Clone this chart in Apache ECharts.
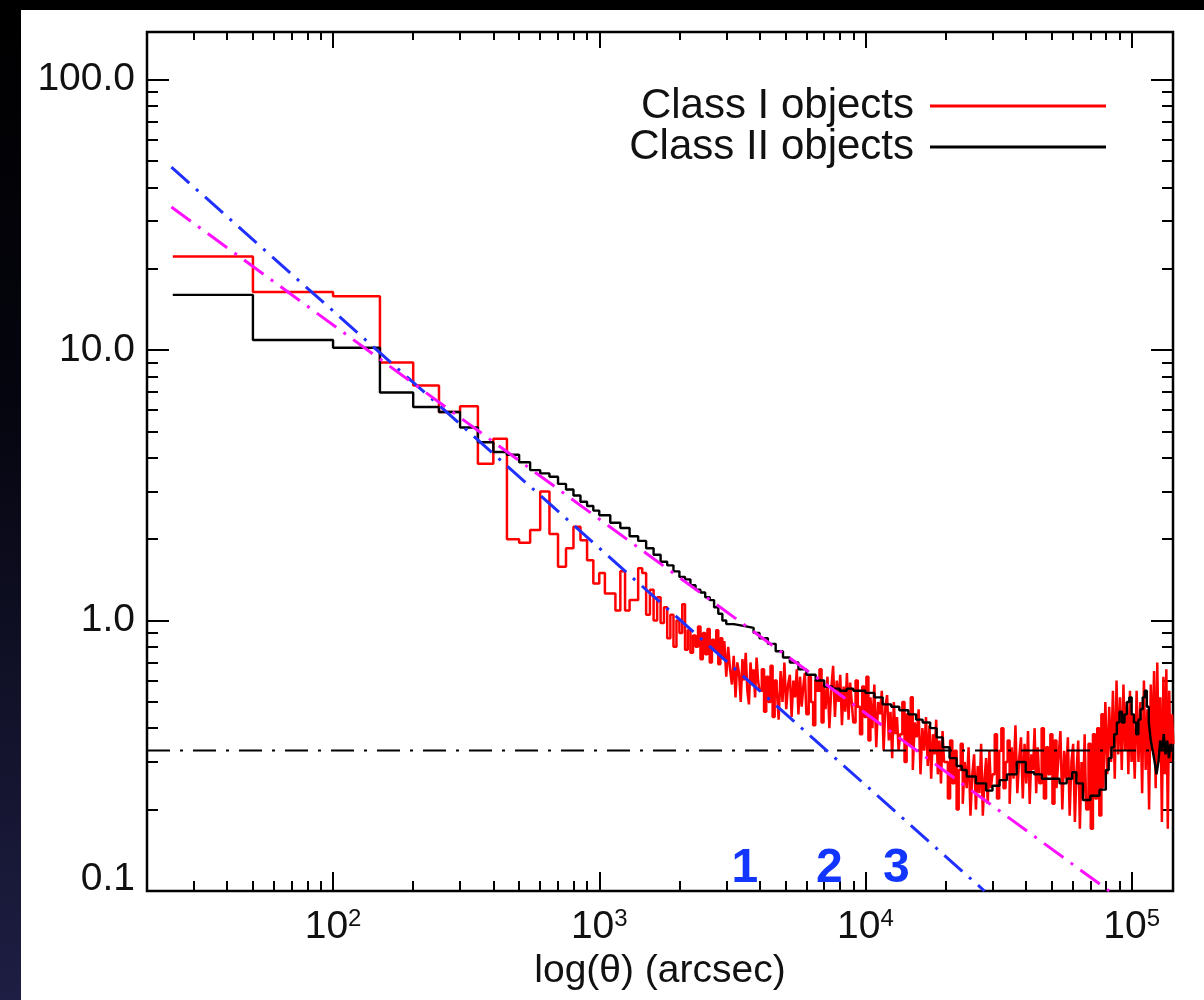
<!DOCTYPE html>
<html>
<head>
<meta charset="utf-8">
<script src="https://cdn.jsdelivr.net/npm/echarts@6/dist/echarts.min.js"></script>
<style>
html,body{margin:0;padding:0;background:#000;}
#wrap{position:relative;width:1204px;height:1000px;background:linear-gradient(180deg,#000 0%,#05050f 40%,#1e1e44 100%);overflow:hidden;}
#paper{position:absolute;left:21px;top:10px;right:0;bottom:0;background:#fff;}
#chart{position:absolute;left:0;top:0;width:1204px;height:1000px;}
</style>
</head>
<body>
<div id="wrap"><div id="paper"></div><div id="chart"></div></div>
<script>
// ---------------- data ----------------
const xMajorTicks = [100, 1000, 10000, 100000];
const xMajorExponents = ['2', '3', '4', '5'];
const xMinorTicks = [30,40,50,60,70,80,90,200,300,400,500,600,700,800,900,2000,3000,4000,5000,6000,7000,8000,9000,20000,30000,40000,50000,60000,70000,80000,90000];
const yMajorTicks = [0.1, 1, 10, 100];
const yMajorLabels = ['0.1', '1.0', '10.0', '100.0'];
const yMinorTicks = [0.2,0.3,0.4,0.5,0.6,0.7,0.8,0.9,2,3,4,5,6,7,8,9,20,30,40,50,60,70,80,90];

// Class I objects (red). Resolved steps: left edge (arcsec) and value
const classI_theta = [25,50,100,150,200,250,300,350,400,450,500,550,600,650,700,750,800,850,900,950];
const classI_value = [22.2,16.4,15.8,9.0,7.4,5.9,6.2,3.8,4.7,2.0,1.94,2.16,3.0,2.09,1.58,1.85,2.22,1.98,1.67,1.37];
// Dense, noisy part: runs of equally spaced bins (start, spacing) with the values
const classI_runStart = [1000, 3000, 4000, 6000, 9000, 13500, 20000, 30000, 45000, 67500, 101000];
const classI_runStep  = [50, 50, 80, 120, 180, 260, 400, 600, 900, 1350, 1700];
const classI_runValues = [
  [1.5,1.26,1.26,1.09,1.52,1.09,1.19,1.19,1.56,1.5,
   1.05,1.3,1.0,1.22,0.98,1.12,0.86,1.05,0.8,1.0,0.9,1.15,0.78,0.92,0.76,0.88,0.8,0.95,0.72,0.9,
   0.75,0.93,0.7,0.85,0.78,0.92,0.69,0.86,0.72,0.84],
  [0.62,0.8,0.66,0.58,0.74,0.52,0.7,0.64,0.5,0.72,0.6,0.76,0.55,0.49,0.7,0.58,0.66,0.52,0.73,0.6],
  [0.55,0.66,0.46,0.62,0.5,0.68,0.44,0.6,0.56,0.43,0.65,0.5,0.7,0.47,0.58,0.63,0.44,0.6,0.52,0.66,0.45,0.62,0.48,0.57,0.64],
  [0.45,0.62,0.5,0.41,0.6,0.55,0.66,0.42,0.58,0.47,0.62,0.4,0.56,0.68,0.44,0.6,0.5,0.63,0.41,0.57,0.46,0.64,0.43,0.59,0.5],
  [0.42,0.6,0.48,0.38,0.57,0.44,0.62,0.36,0.52,0.4,0.58,0.34,0.5,0.45,0.55,0.33,0.48,0.53,0.36,0.46,0.31,0.5,0.38,0.44,0.33],
  [0.38,0.5,0.3,0.45,0.35,0.52,0.28,0.42,0.37,0.47,0.27,0.4,0.33,0.44,0.29,0.41,0.26,0.38,0.32,0.43,0.27,0.36,0.25,0.39,0.3],
  [0.3,0.22,0.36,0.25,0.33,0.2,0.28,0.35,0.21,0.3,0.24,0.34,0.19,0.27,0.32,0.2,0.29,0.23,0.35,0.19,0.26,0.31,0.21,0.33,0.24],
  [0.27,0.38,0.22,0.33,0.4,0.24,0.3,0.36,0.21,0.34,0.26,0.41,0.23,0.31,0.37,0.22,0.35,0.25,0.39,0.21,0.32,0.28,0.4,0.23,0.34],
  [0.25,0.4,0.22,0.34,0.27,0.38,0.21,0.36,0.24,0.31,0.39,0.2,0.33,0.26,0.37,0.19,0.3,0.35,0.18,0.28,0.36,0.17,0.3,0.22,0.38],
  [0.2,0.35,0.17,0.38,0.22,0.4,0.19,0.45,0.24,0.5,0.27,0.48,0.3,0.55,0.26,0.6,0.32,0.52,0.28,0.58,0.33,0.5,0.27,0.55,0.3],
  [0.45,0.26,0.55,0.3,0.5,0.23,0.6,0.28,0.47,0.2,0.58,0.33,0.65,0.24,0.7,0.3,0.52,0.18,0.62,0.27,0.66,0.17,0.55,0.3,0.45,0.35]
];

// Class II objects (black)
const classII_theta = [25,50,100,150,200,250,300,350,400,450,500,550,600,650,700,750,800,850,900,950,
  1000,1100,1200,1300,1400,1500,1600,1700,1800,1900,2000,2100,2200,2300,2400,2500,2600,2700,2800,2900,
  3000,3200,3400,3600,3800,4000,4300,4600,4900,5200,5600,6000,6500,7000,7500,8000,8500,9000,9500,10000,
  10800,11600,12500,13400,14500,15500,16400,17500,18500,19500,20700,22000,23000,24000,26000,28400,30000,31900,34000,37000,
  40000,43000,46000,50000,53600,57000,59800,62000,65600,70000,75700,
  80000,82000,84000,86000,88000,90000,92000,94000,96000,98000,100000,102000,104000,106000,108000,110000,112000,114000,116000,118000,
  120000,122000,124000,126000,128000,130000,132000,134000,136000,138000,140000,142000,144000];
const classII_value = [16.0,10.9,10.2,6.97,6.16,5.9,5.17,4.56,4.2,4.1,3.85,3.6,3.5,3.4,3.2,3.05,2.9,2.75,2.65,2.55,
  2.45,2.3,2.2,2.05,1.97,1.85,1.75,1.65,1.6,1.52,1.45,1.42,1.35,1.3,1.27,1.22,1.19,1.12,1.06,1.0,
  0.97,0.96,0.95,0.94,0.9,0.86,0.82,0.77,0.73,0.7,0.66,0.63,0.6,0.57,0.56,0.55,0.56,0.55,0.55,0.54,
  0.52,0.49,0.48,0.466,0.45,0.43,0.42,0.4,0.37,0.34,0.31,0.29,0.28,0.265,0.25,0.235,0.245,0.257,0.27,0.3,
  0.275,0.27,0.26,0.26,0.25,0.26,0.275,0.25,0.217,0.225,0.237,
  0.28,0.31,0.34,0.38,0.42,0.46,0.42,0.45,0.5,0.52,0.45,0.42,0.38,0.43,0.47,0.52,0.55,0.48,0.42,0.36,
  0.33,0.3,0.27,0.3,0.36,0.33,0.38,0.32,0.36,0.31,0.35,0.33,0.33];

// power-law fits (end points) and the horizontal reference level
const fitBlue_theta = [24.7, 28000];
const fitBlue_value = [47.5, 0.1];
const fitMagenta_theta = [24.7, 82400];
const fitMagenta_value = [33.8, 0.1];
const refLevel = 0.331;
const thetaRange = [20, 143000];
const valueRange = [0.1, 150];

// numbered markers
const markerText = ['1', '2', '3'];
const markerTheta = [3520, 7320, 13050];
const markerValue = [0.121, 0.121, 0.121];

// ---------------- chart ----------------
const FONT = "'Liberation Sans', Arial, Helvetica, sans-serif";
const zip = (a, b) => a.map((v, i) => [v, b[i]]);

function expandRuns(starts, steps, values) {
  const out = [];
  starts.forEach((s, r) => values[r].forEach((v, i) => out.push([s + i * steps[r], v])));
  return out;
}
const classI_data = zip(classI_theta, classI_value).concat(expandRuns(classI_runStart, classI_runStep, classI_runValues));
const classII_data = zip(classII_theta, classII_value);

function xAxisDef(position, ticks, len, opts) {
  return Object.assign({
    type: 'log', logBase: 10, min: thetaRange[0], max: thetaRange[1], position: position, gridIndex: 0,
    splitLine: { show: false },
    axisLine: { show: false },
    axisTick: { show: true, inside: true, length: len, customValues: ticks, lineStyle: { color: '#000', width: 2 } },
    axisLabel: { show: false }
  }, opts || {});
}
function yAxisDef(position, ticks, len, opts) {
  return Object.assign({
    type: 'log', logBase: 10, min: valueRange[0], max: valueRange[1], position: position, gridIndex: 0,
    splitLine: { show: false },
    axisLine: { show: false },
    axisTick: { show: true, inside: true, length: len, customValues: ticks, lineStyle: { color: '#000', width: 2 } },
    axisLabel: { show: false }
  }, opts || {});
}

const legendText = { fontFamily: FONT, fontSize: 42, color: '#111', padding: [0, 11, 0, 0] };

const option = {
  backgroundColor: 'transparent',
  animation: false,
  grid: { left: 147, right: 31, top: 32, bottom: 109, show: true, borderColor: '#000', borderWidth: 2.5, backgroundColor: 'transparent' },
  xAxis: [
    xAxisDef('bottom', xMajorTicks, 19, {
      name: 'log(θ) (arcsec)', nameLocation: 'middle', nameGap: 58,
      nameTextStyle: { fontFamily: FONT, fontSize: 39, color: '#111' },
      axisLabel: {
        show: true, customValues: xMajorTicks, margin: 16, color: '#111', fontFamily: FONT,
        formatter: function (v) {
          const i = xMajorTicks.findIndex(t => Math.abs(Math.log10(t) - Math.log10(v)) < 1e-6);
          return '{b|10}{s|' + xMajorExponents[i] + '}';
        },
        rich: {
          b: { fontSize: 39, fontFamily: FONT, color: '#111', lineHeight: 40 },
          s: { fontSize: 24, fontFamily: FONT, color: '#111', verticalAlign: 'top', lineHeight: 22 }
        }
      }
    }),
    xAxisDef('bottom', xMinorTicks, 10),
    xAxisDef('top', xMajorTicks, 16),
    xAxisDef('top', xMinorTicks, 8)
  ],
  yAxis: [
    yAxisDef('left', yMajorTicks, 22, {
      axisLabel: {
        show: true, customValues: yMajorTicks, margin: 12, color: '#111', fontFamily: FONT, fontSize: 39,
        formatter: function (v) {
          const i = yMajorTicks.findIndex(t => Math.abs(Math.log10(t) - Math.log10(v)) < 1e-6);
          return i === 0 ? '{low|' + yMajorLabels[i] + '}' : yMajorLabels[i];
        },
        rich: { low: { fontSize: 39, fontFamily: FONT, color: '#111', padding: [0, 0, 24, 0] } }
      }
    }),
    yAxisDef('left', yMinorTicks, 11),
    yAxisDef('right', yMajorTicks, 22),
    yAxisDef('right', yMinorTicks, 11)
  ],
  legend: [
    {
      data: ['Class I objects'], right: 93, top: 80, orient: 'vertical', align: 'right',
      icon: 'rect', itemWidth: 176, itemHeight: 3, selectedMode: false, textStyle: legendText
    },
    {
      data: ['Class II objects'], right: 93, top: 121, orient: 'vertical', align: 'right',
      icon: 'rect', itemWidth: 176, itemHeight: 3, selectedMode: false, textStyle: legendText
    }
  ],
  series: [
    {
      name: 'Class I objects', type: 'line', step: 'end', symbol: 'none', z: 2,
      data: classI_data,
      itemStyle: { color: '#ff0000' },
      lineStyle: { color: '#ff0000', width: 2.5 }
    },
    {
      name: 'Class II objects', type: 'line', step: 'end', symbol: 'none', z: 3,
      data: classII_data,
      itemStyle: { color: '#000' },
      lineStyle: { color: '#000', width: 2.4 }
    },
    {
      name: 'level', type: 'line', symbol: 'none', z: 4, silent: true,
      data: [[thetaRange[0], refLevel], [thetaRange[1], refLevel]],
      lineStyle: { color: '#000', width: 2, type: [23, 10, 3, 10] }
    },
    {
      name: 'fit1', type: 'line', symbol: 'none', z: 5, silent: true,
      data: zip(fitBlue_theta, fitBlue_value),
      lineStyle: { color: '#2030ff', width: 3, type: [24, 9, 3, 9] }
    },
    {
      name: 'fit2', type: 'line', symbol: 'none', z: 5, silent: true,
      data: zip(fitMagenta_theta, fitMagenta_value),
      lineStyle: { color: '#ff10ff', width: 3, type: [24, 9, 3, 9] }
    },
    {
      name: 'markers', type: 'scatter', z: 6, silent: true, symbol: 'circle', symbolSize: 0.1,
      itemStyle: { color: '#1a3cff', opacity: 1 },
      data: markerText.map((t, i) => ({ value: [markerTheta[i], markerValue[i]], name: t })),
      label: {
        show: true, position: 'inside', formatter: p => p.name, opacity: 1,
        fontFamily: FONT, fontWeight: 'bold', fontSize: 48, color: '#1236ff', textBorderWidth: 0
      }
    }
  ]
};

const chart = echarts.init(document.getElementById('chart'), null, { renderer: 'canvas' });
chart.setOption(option);
</script>
</body>
</html>
